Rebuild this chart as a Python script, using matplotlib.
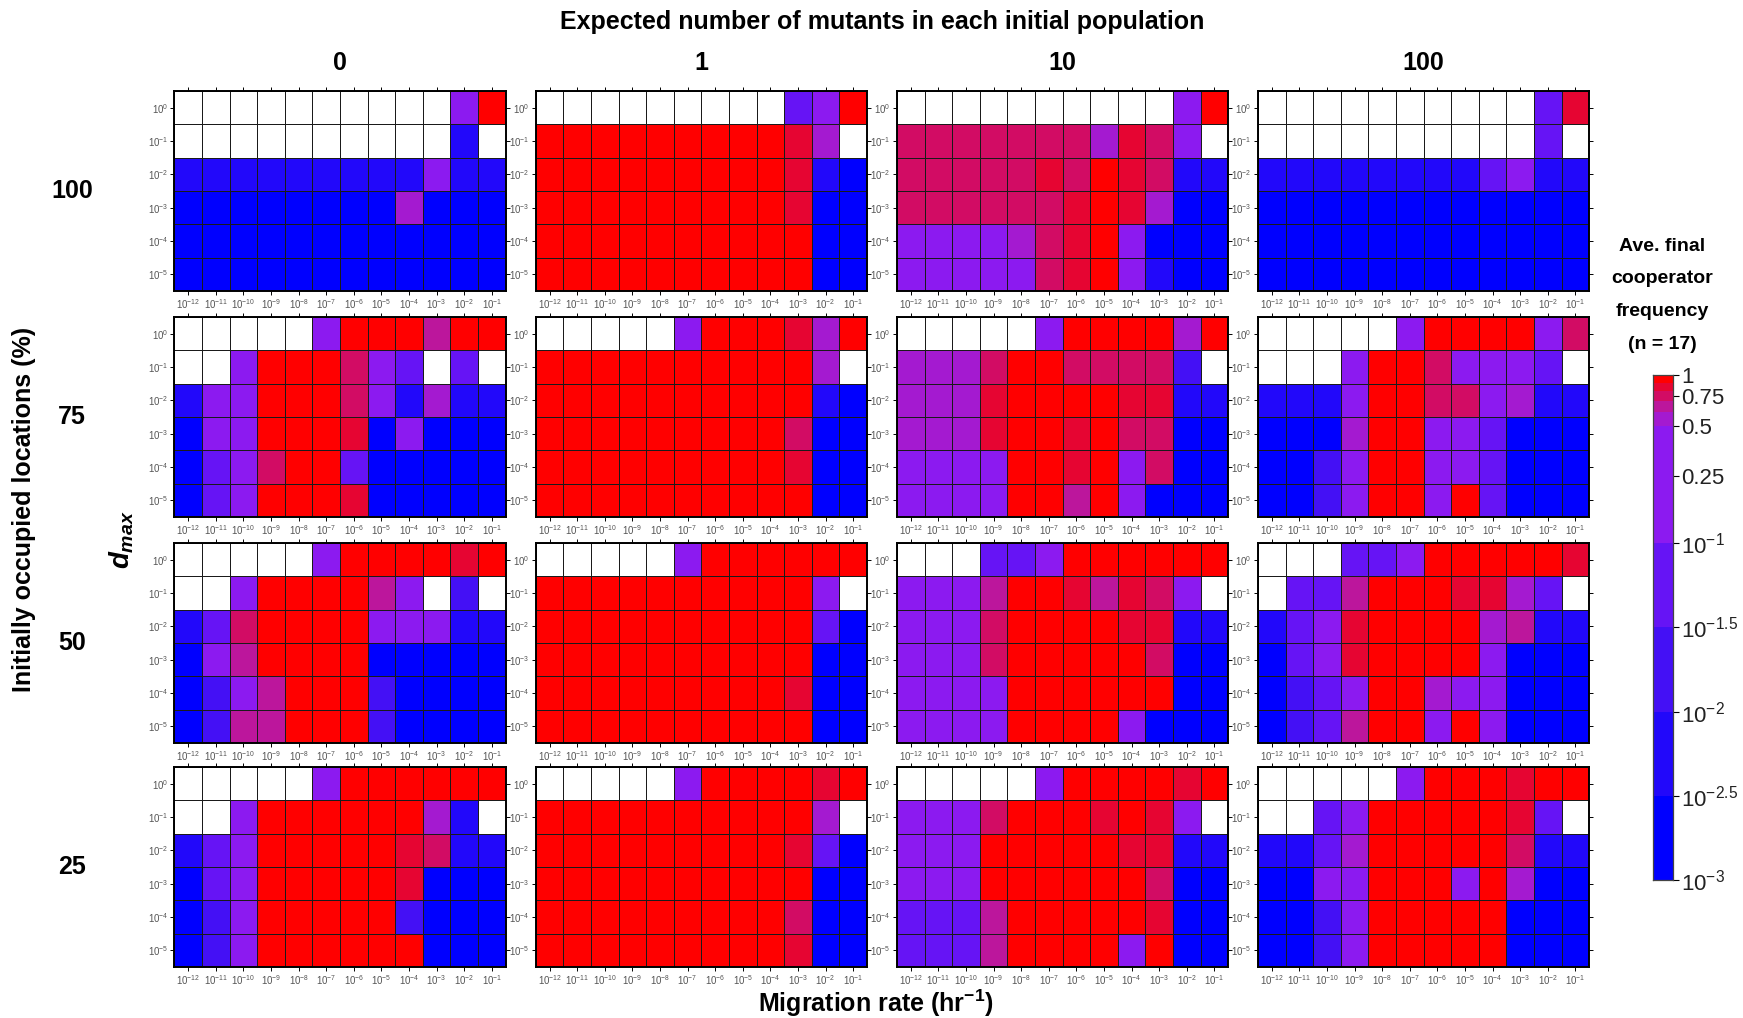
import numpy as np
import matplotlib
matplotlib.use('Agg')
import matplotlib.pyplot as plt
from matplotlib.colors import ListedColormap, BoundaryNorm
from matplotlib.ticker import NullLocator

plt.rcParams['font.family'] = ['Liberation Sans', 'DejaVu Sans']
plt.rcParams['mathtext.fontset'] = 'custom'
plt.rcParams['mathtext.rm'] = 'Liberation Sans'
plt.rcParams['mathtext.it'] = 'Liberation Sans:italic:bold'
plt.rcParams['mathtext.bf'] = 'Liberation Sans:bold'

w = np.nan  # white cell, no value

# axis labels
rates = ['$10^{-12}$', '$10^{-11}$', '$10^{-10}$', '$10^{-9}$', '$10^{-8}$', '$10^{-7}$',
         '$10^{-6}$', '$10^{-5}$', '$10^{-4}$', '$10^{-3}$', '$10^{-2}$', '$10^{-1}$']
dmax = ['$10^{0}$', '$10^{-1}$', '$10^{-2}$', '$10^{-3}$', '$10^{-4}$', '$10^{-5}$']
mutants = ['0', '1', '10', '100']
occupied = ['100', '75', '50', '25']

# ave. final cooperator frequency, rows = d_max (10^0 .. 10^-5), cols = migration rate
f100_0 = [[w, w, w, w, w, w, w, w, w, w, .3, 1],
          [w, w, w, w, w, w, w, w, w, w, .005, w],
          [.005, .005, .005, .005, .005, .005, .005, .005, .005, .3, .005, .005],
          [.002, .002, .002, .002, .002, .002, .002, .002, .55, .002, .002, .002],
          [.002, .002, .002, .002, .002, .002, .002, .002, .002, .002, .002, .002],
          [.002, .002, .002, .002, .002, .002, .002, .002, .002, .002, .002, .002]]
f100_1 = [[w, w, w, w, w, w, w, w, w, .05, .3, 1],
          [1, 1, 1, 1, 1, 1, 1, 1, 1, .85, .55, w],
          [1, 1, 1, 1, 1, 1, 1, 1, 1, .85, .005, .002],
          [1, 1, 1, 1, 1, 1, 1, 1, 1, .85, .002, .002],
          [1, 1, 1, 1, 1, 1, 1, 1, 1, 1, .002, .002],
          [1, 1, 1, 1, 1, 1, 1, 1, 1, 1, .002, .002]]
f100_10 = [[w, w, w, w, w, w, w, w, w, w, .3, 1],
           [.75, .75, .75, .75, .75, .75, .75, .55, .85, .75, .3, w],
           [.75, .75, .75, .75, .75, .85, .75, 1, .85, .75, .005, .005],
           [.75, .75, .75, .75, .75, .75, .85, 1, .85, .55, .002, .002],
           [.3, .3, .3, .3, .55, .75, .85, 1, .3, .002, .002, .002],
           [.3, .3, .3, .3, .3, .75, .85, 1, .3, .005, .002, .002]]
f100_100 = [[w, w, w, w, w, w, w, w, w, w, .05, .85],
            [w, w, w, w, w, w, w, w, w, w, .05, w],
            [.005, .005, .005, .005, .005, .005, .005, .005, .05, .3, .005, .005],
            [.002, .002, .002, .002, .002, .002, .002, .002, .002, .002, .002, .002],
            [.002, .002, .002, .002, .002, .002, .002, .002, .002, .002, .002, .002],
            [.002, .002, .002, .002, .002, .002, .002, .002, .002, .002, .002, .002]]

f75_0 = [[w, w, w, w, w, .3, 1, 1, 1, .65, 1, 1],
         [w, w, .3, 1, 1, 1, .75, .3, .05, w, .05, w],
         [.005, .3, .3, 1, 1, 1, .75, .3, .005, .55, .005, .005],
         [.002, .3, .3, 1, 1, 1, .85, .002, .3, .002, .002, .002],
         [.002, .05, .3, .75, 1, 1, .05, .002, .002, .002, .002, .002],
         [.002, .05, .3, 1, 1, 1, .85, .002, .002, .002, .002, .002]]
f75_1 = [[w, w, w, w, w, .3, 1, 1, 1, .85, .55, 1],
         [1, 1, 1, 1, 1, 1, 1, 1, 1, 1, .55, w],
         [1, 1, 1, 1, 1, 1, 1, 1, 1, 1, .005, .002],
         [1, 1, 1, 1, 1, 1, 1, 1, 1, .75, .002, .002],
         [1, 1, 1, 1, 1, 1, 1, 1, 1, .85, .002, .002],
         [1, 1, 1, 1, 1, 1, 1, 1, 1, 1, .002, .002]]
f75_10 = [[w, w, w, w, w, .3, 1, 1, 1, 1, .55, 1],
          [.55, .55, .55, .75, 1, 1, .75, .75, .75, .75, .015, w],
          [.55, .55, .55, .85, 1, 1, 1, 1, .85, .85, .005, .005],
          [.55, .55, .55, .85, 1, 1, .85, 1, .75, .75, .002, .002],
          [.3, .3, .3, .3, 1, 1, .85, 1, .3, .75, .002, .002],
          [.3, .3, .3, .3, 1, 1, .65, 1, .3, .002, .002, .002]]
f75_100 = [[w, w, w, w, w, .3, 1, 1, 1, 1, .3, .75],
           [w, w, w, .3, 1, 1, .75, .3, .3, .3, .05, w],
           [.005, .005, .005, .3, 1, 1, .75, .75, .3, .55, .005, .005],
           [.002, .002, .002, .55, 1, 1, .3, .3, .05, .002, .002, .002],
           [.002, .002, .015, .3, 1, 1, .3, .3, .05, .002, .002, .002],
           [.002, .002, .015, .3, 1, 1, .3, 1, .05, .002, .002, .002]]

f50_0 = [[w, w, w, w, w, .3, 1, 1, 1, 1, .85, 1],
         [w, w, .3, 1, 1, 1, 1, .65, .3, w, .015, w],
         [.005, .05, .75, 1, 1, 1, 1, .3, .3, .3, .005, .005],
         [.002, .3, .65, 1, 1, 1, 1, .002, .002, .002, .002, .002],
         [.002, .015, .3, .65, 1, 1, 1, .015, .002, .002, .002, .002],
         [.002, .015, .65, .65, 1, 1, 1, .015, .002, .002, .002, .002]]
f50_1 = [[w, w, w, w, w, .3, 1, 1, 1, 1, 1, 1],
         [1, 1, 1, 1, 1, 1, 1, 1, 1, 1, .3, w],
         [1, 1, 1, 1, 1, 1, 1, 1, 1, 1, .05, .002],
         [1, 1, 1, 1, 1, 1, 1, 1, 1, 1, .002, .002],
         [1, 1, 1, 1, 1, 1, 1, 1, 1, .85, .002, .002],
         [1, 1, 1, 1, 1, 1, 1, 1, 1, 1, .002, .002]]
f50_10 = [[w, w, w, .05, .05, .3, 1, 1, 1, 1, 1, 1],
          [.3, .3, .3, .65, 1, 1, .85, .65, .85, .75, .3, w],
          [.3, .3, .3, .75, 1, 1, 1, 1, .85, .85, .005, .005],
          [.3, .3, .3, .75, 1, 1, 1, 1, 1, .75, .002, .002],
          [.3, .3, .3, .3, 1, 1, 1, 1, 1, 1, .002, .002],
          [.3, .3, .3, .3, 1, 1, 1, 1, .3, .002, .002, .002]]
f50_100 = [[w, w, w, .05, .05, .3, 1, 1, 1, 1, 1, .85],
           [w, .05, .05, .65, 1, 1, 1, .85, .85, .55, .05, w],
           [.005, .05, .3, .85, 1, 1, 1, 1, .55, .65, .005, .005],
           [.002, .05, .3, .85, 1, 1, 1, 1, .3, .002, .002, .002],
           [.002, .015, .05, .3, 1, 1, .55, .3, .3, .002, .002, .002],
           [.002, .015, .05, .65, 1, 1, .3, 1, .3, .002, .002, .002]]

f25_0 = [[w, w, w, w, w, .3, 1, 1, 1, 1, 1, 1],
         [w, w, .3, 1, 1, 1, 1, 1, 1, .55, .005, w],
         [.005, .05, .3, 1, 1, 1, 1, 1, .85, .75, .005, .005],
         [.002, .05, .3, 1, 1, 1, 1, 1, .85, .002, .002, .002],
         [.002, .015, .3, 1, 1, 1, 1, 1, .015, .002, .002, .002],
         [.002, .015, .3, 1, 1, 1, 1, 1, 1, .002, .002, .002]]
f25_1 = [[w, w, w, w, w, .3, 1, 1, 1, 1, .85, 1],
         [1, 1, 1, 1, 1, 1, 1, 1, 1, 1, .55, w],
         [1, 1, 1, 1, 1, 1, 1, 1, 1, .85, .05, .002],
         [1, 1, 1, 1, 1, 1, 1, 1, 1, 1, .002, .002],
         [1, 1, 1, 1, 1, 1, 1, 1, 1, .75, .002, .002],
         [1, 1, 1, 1, 1, 1, 1, 1, 1, .85, .002, .002]]
f25_10 = [[w, w, w, w, w, .3, 1, 1, 1, 1, .85, 1],
          [.3, .3, .3, .75, 1, 1, 1, .85, 1, .85, .3, w],
          [.3, .3, .3, 1, 1, 1, 1, 1, .85, .85, .005, .005],
          [.3, .3, .3, 1, 1, 1, 1, 1, 1, .75, .002, .002],
          [.05, .05, .05, .65, 1, 1, 1, 1, 1, .85, .002, .002],
          [.05, .05, .05, .65, 1, 1, 1, 1, .3, 1, .002, .002]]
f25_100 = [[w, w, w, w, w, .3, 1, 1, 1, .85, 1, 1],
           [w, w, .05, .3, 1, 1, 1, 1, 1, .85, .05, w],
           [.005, .005, .05, .55, 1, 1, 1, 1, 1, .75, .005, .005],
           [.002, .002, .3, .3, 1, 1, 1, .3, 1, .55, .002, .002],
           [.002, .002, .015, .3, 1, 1, 1, 1, 1, .002, .002, .002],
           [.002, .002, .015, .3, 1, 1, 1, 1, 1, .002, .002, .002]]

panels = [[f100_0, f100_1, f100_10, f100_100],
          [f75_0, f75_1, f75_10, f75_100],
          [f50_0, f50_1, f50_10, f50_100],
          [f25_0, f25_1, f25_10, f25_100]]

# discrete colour scale
bounds = [1e-3, 10**-2.5, 1e-2, 10**-1.5, 1e-1, 0.5, 0.6, 0.7, 0.8, 0.9, 1.0]
colors = ['#0000ff', '#2208fa', '#4410f5', '#6614f5', '#8c1af0',
          '#a41ad0', '#bc169c', '#d20c64', '#e60532', '#ff0000']
cmap = ListedColormap(colors)
cmap.set_bad('white')
norm = BoundaryNorm(bounds, cmap.N, clip=True)

fig = plt.figure(figsize=(17.43, 10.18), dpi=100)
lefts = [0.1001, 0.3074, 0.5146, 0.7218]
bottoms = [0.7141, 0.4921, 0.2701, 0.0501]
pw, ph = 0.190, 0.1965

for i in range(4):
    for j in range(4):
        ax = fig.add_axes([lefts[j], bottoms[i], pw, ph])
        arr = np.ma.masked_invalid(np.array(panels[i][j], dtype=float))
        ax.pcolormesh(np.arange(13), np.arange(7), arr, cmap=cmap, norm=norm,
                      edgecolors='#1a1a1a', linewidth=0.7)
        ax.set_xlim(0, 12)
        ax.set_ylim(6, 0)
        ax.set_xticks(np.arange(12) + 0.5, rates)
        ax.set_yticks(np.arange(6) + 0.5, dmax)
        ax.tick_params(direction='out', length=3, width=0.7, labelsize=7,
                       labelcolor='#555555', top=True, right=True, pad=1.5)
        for s in ax.spines.values():
            s.set_linewidth(1.4)

# headers
fig.text(0.506, 0.978, 'Expected number of mutants in each initial population',
         ha='center', va='center', fontsize=18, fontweight='bold')
for j, m in enumerate(mutants):
    fig.text(lefts[j] + pw / 2, 0.938, m, ha='center', va='center',
             fontsize=18, fontweight='bold')
for i, o in enumerate(occupied):
    fig.text(0.0413, bottoms[i] + ph / 2, o, ha='center', va='center',
             fontsize=18, fontweight='bold')
fig.text(0.014, 0.50, 'Initially occupied locations (%)', rotation=90,
         ha='center', va='center', fontsize=18, fontweight='bold')
fig.text(0.070, 0.47, r'$d_{max}$', rotation=90, ha='center', va='center',
         fontsize=20)
fig.text(0.5026, 0.0147, r'Migration rate (hr$^{\mathbf{-1}}$)',
         ha='center', va='center', fontsize=18, fontweight='bold')

# colour bar
fig.text(0.9535, 0.710, 'Ave. final\ncooperator\nfrequency\n(n = 17)',
         ha='center', va='center', fontsize=14, fontweight='bold', linespacing=2.2)
cax = fig.add_axes([0.9484, 0.1356, 0.0115, 0.496])
mids = np.sqrt(np.array(bounds[:-1]) * np.array(bounds[1:]))
cax.pcolormesh([0, 1], bounds, mids.reshape(-1, 1), cmap=cmap, norm=norm)
cax.set_yscale('log')
cax.set_ylim(1e-3, 1)
cax.set_xlim(0, 1)
cax.set_xticks([])
cax.yaxis.tick_right()
cax.set_yticks([1, 0.75, 0.5, 0.25, 1e-1, 10**-1.5, 1e-2, 10**-2.5, 1e-3],
               ['1', '0.75', '0.5', '0.25', '$10^{-1}$', '$10^{-1.5}$',
                '$10^{-2}$', '$10^{-2.5}$', '$10^{-3}$'])
cax.yaxis.set_minor_locator(NullLocator())
cax.tick_params(axis='y', length=4, width=0.8, labelsize=16, pad=2, labelcolor='#222222')
for s in cax.spines.values():
    s.set_linewidth(0.9)
    s.set_color('#444444')

fig.savefig('out.png', dpi=100)
